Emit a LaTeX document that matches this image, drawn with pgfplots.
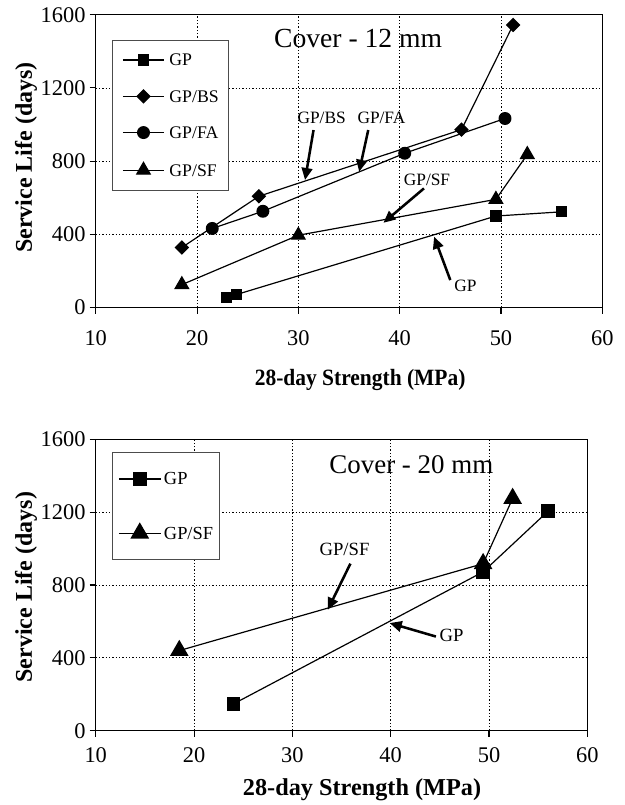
\documentclass[border=0pt]{standalone}
\usepackage{fontspec}
\setmainfont{Liberation Serif}
\usepackage{pgfplots}
\pgfplotsset{compat=1.18}
\usetikzlibrary{arrows.meta}

\tikzset{arr/.style={-{Triangle[length=9pt,width=8pt]}, line width=1.9pt}}

\pgfplotsset{
  svc/.style={
    scale only axis,
    xmin=10, xmax=60, ymin=0, ymax=1600,
    xtick={10,20,...,60}, ytick={0,400,...,1600},
    tick align=outside, xtick pos=left, ytick pos=left,
    major tick length=4.5pt,
    tick style={black, line width=0.8pt},
    axis line style={line width=0.9pt},
    grid=major,
    major grid style={black, line width=0.6pt, dash pattern=on 1pt off 1.5pt},
    /pgf/number format/assume math mode=true,
    /pgf/number format/1000 sep={},
    ticklabel style={font=\fontsize{16.8}{19}\selectfont},
    yticklabel style={inner sep=3pt},
    legend cell align=left,
    every axis plot/.append style={black, line width=0.9pt},
  },
}

\begin{document}
\begin{tikzpicture}
\path[use as bounding box] (0,0) rectangle (468pt,603.75pt);

% ---- cover 12 mm ----
\begin{axis}[svc,
  at={(71.8pt,373.1pt)}, anchor=south west,
  width=379.9pt, height=219.6pt,
  xticklabel style={yshift=-9.2pt},
  xlabel={\scalebox{0.92}[1]{\textbf{28-day Strength (MPa)}}},
  ylabel={\textbf{Service Life (days)}},
  xlabel style={at={(axis description cs:0.522,-0.2476)}, anchor=center, font=\fontsize{17.5}{20}\selectfont},
  ylabel style={at={(axis description cs:-0.1376,0.512)}, anchor=center, font=\fontsize{18}{21}\selectfont},
  legend style={at={(axis description cs:0.0315,0.915)}, anchor=north west,
    draw=black!70, line width=0.8pt, fill=white,
    inner xsep=7.5pt, inner ysep=10.5pt, row sep=18pt,
    font=\fontsize{13.3}{15}\selectfont,
    nodes={inner sep=0pt, text height=8.8pt, text depth=0pt},
    /tikz/every odd column/.append style={column sep=3.5pt}},
  legend image code/.code={\draw[#1, mark repeat=2, mark phase=2] plot coordinates {(0pt,0pt)(15.5pt,0pt)(31pt,0pt)};},
]
\addplot[mark=square*, mark size=3.8pt, mark options={solid, fill=black}]
  coordinates {(22.9,53) (23.9,71) (49.5,500) (56.0,523)};
\addlegendentry{GP}
\addplot[mark=square*, mark size=3.4pt, mark options={solid, fill=black, rotate=45}]
  coordinates {(18.5,328) (26.1,608) (46.1,972) (51.2,1544)};
\addlegendentry{GP/BS}
\addplot[mark=*, mark size=4.4pt, mark options={solid, fill=black}]
  coordinates {(21.5,432) (26.5,526) (40.5,843) (50.4,1033)};
\addlegendentry{GP/FA}
\addplot[mark=triangle*, mark size=5.8pt, mark options={solid, fill=black}]
  coordinates {(18.5,125) (30.0,395) (49.5,591) (52.6,836)};
\addlegendentry{GP/SF}

\node[font=\fontsize{20.7}{24}\selectfont] at (axis cs:35.9,1470) {Cover - 12 mm};
\begin{scope}[font=\fontsize{13}{15}\selectfont]
\node at (axis cs:32.3,1034) {GP/BS};
\node at (axis cs:38.2,1034) {GP/FA};
\node at (axis cs:42.7,700) {GP/SF};
\node at (axis cs:46.5,117) {GP};
\end{scope}
\draw[arr] (axis cs:31.5,970) -- (axis cs:30.66,697);
\draw[arr] (axis cs:36.9,970) -- (axis cs:36.0,742);
\draw[arr] (axis cs:42.4,651) -- (axis cs:38.4,463);
\draw[arr] (axis cs:45.0,150) -- (axis cs:43.4,387);
\end{axis}

% ---- cover 20 mm ----
\begin{axis}[svc,
  at={(71.8pt,55.7pt)}, anchor=south west,
  width=368.7pt, height=218.6pt,
  xticklabel style={yshift=-4.3pt},
  xlabel={\textbf{28-day Strength (MPa)}},
  ylabel={\textbf{Service Life (days)}},
  xlabel style={at={(axis description cs:0.5417,-0.2035)}, anchor=center, font=\fontsize{18.2}{21}\selectfont},
  ylabel style={at={(axis description cs:-0.1418,0.493)}, anchor=center, font=\fontsize{18}{21}\selectfont},
  legend style={at={(axis description cs:0.0325,0.9575)}, anchor=north west,
    draw=black!70, line width=0.8pt, fill=white,
    inner xsep=4.5pt, inner ysep=15.5pt, row sep=28.8pt,
    font=\fontsize{13.8}{16}\selectfont,
    nodes={inner sep=0pt, text height=9pt, text depth=0pt},
    /tikz/every odd column/.append style={column sep=2pt}},
  legend image code/.code={\draw[#1, mark repeat=2, mark phase=2] plot coordinates {(0pt,0pt)(15.7pt,0pt)(31.4pt,0pt)};},
]
\addplot[mark=square*, mark size=4.6pt, mark options={solid, fill=black}]
  coordinates {(24.0,147) (49.4,872) (56.0,1205)};
\addlegendentry{GP}
\addplot[mark=triangle*, mark size=7.2pt, mark options={solid, fill=black}]
  coordinates {(18.5,440) (49.4,917) (52.4,1275)};
\addlegendentry{GP/SF}

\node[font=\fontsize{20.2}{24}\selectfont] at (axis cs:42.1,1459) {Cover - 20 mm};
\begin{scope}[font=\fontsize{14}{16}\selectfont]
\node at (axis cs:35.3,994) {GP/SF};
\node at (axis cs:46.2,523) {GP};
\end{scope}
\draw[arr] (axis cs:35.9,917) -- (axis cs:33.6,664);
\draw[arr] (axis cs:44.6,517) -- (axis cs:39.9,591);
\end{axis}
\end{tikzpicture}
\end{document}
